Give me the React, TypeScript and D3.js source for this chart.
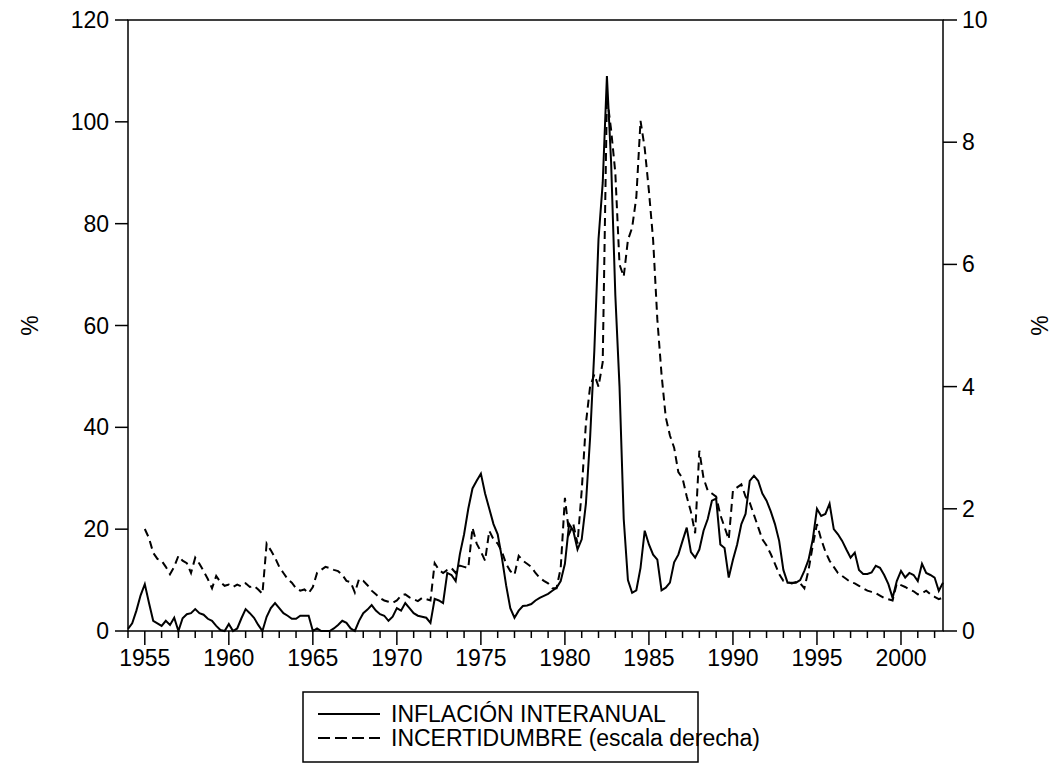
import React from "react";
import * as d3 from "d3";

// Quarterly observations, INFLACIÓN INTERANUAL (%), starting 1954 Q1
const inflStart = 1954;
const inflacion: number[] = [
  0.4, 1.5, 4, 7,
  9.2, 5.5, 2, 1.5,
  1.0, 2, 1.2, 2.6,
  0, 2.5, 3.3, 3.5,
  4.3, 3.5, 3.2, 2.4,
  2.0, 1.0, 0.2, 0,
  1.4, 0, 0.5, 2.5,
  4.3, 3.5, 2.6, 1.2,
  0, 2.8, 4.5, 5.5,
  4.5, 3.5, 3.0, 2.4,
  2.4, 3.0, 3.0, 3.0,
  0, 0.5, 0, 0,
  0, 0.5, 1.2, 2.0,
  1.6, 0.5, 0, 2.0,
  3.5, 4.2, 5.1, 4.0,
  3.3, 3.0, 2.0, 2.8,
  4.5, 4.0, 5.5, 4.5,
  3.5, 3.0, 2.8, 2.6,
  1.6, 6.3, 6.0, 5.5,
  11.4, 11.0, 9.8, 15.1,
  19, 24, 28, 29.5,
  30.9, 27, 24, 21,
  19, 14.4, 9, 4.5,
  2.6, 4, 4.9, 5,
  5.3, 6, 6.5, 6.9,
  7.3, 7.9, 8.5, 9.8,
  13.2, 21, 19.7, 16,
  18, 25, 38, 55,
  77, 88, 109, 92,
  66, 48, 22, 10,
  7.5, 8, 12.4, 19.7,
  17, 15, 14, 8,
  8.5, 9.5, 13.5, 15,
  17.7, 20.3, 15.5, 14.4,
  16, 19.7, 22, 25.6,
  26, 17, 16.3, 10.5,
  14, 17, 21, 23,
  29.5, 30.5, 29.5, 27,
  25.6, 23.5, 21, 17.7,
  12, 9.5, 9.5, 9.5,
  10, 11.8, 14, 18,
  24, 22.6, 23, 25,
  20, 19, 17.7, 16,
  14.4, 15.4, 12, 11.2,
  11.2, 11.5, 12.8, 12.4,
  11, 9.2, 6.5, 9.8,
  11.8, 10.5, 11.4, 11,
  9.8, 13.2, 11.4, 11,
  10.5, 7.9, 9.5,
];

// Quarterly observations, INCERTIDUMBRE (right scale), starting 1955 Q1
const incStart = 1955;
const incertidumbre: number[] = [
  1.67, 1.52, 1.28, 1.18,
  1.15, 1.05, 0.93, 1.05,
  1.23, 1.15, 1.11, 0.95,
  1.2, 1.1, 0.98, 0.85,
  0.70, 0.9, 0.8, 0.74,
  0.76, 0.72, 0.76, 0.73,
  0.78, 0.72, 0.74, 0.68,
  0.61, 1.43, 1.32, 1.2,
  1.05, 0.95, 0.85, 0.79,
  0.7, 0.66, 0.68, 0.62,
  0.72, 0.95, 1.0, 1.05,
  1.03, 1.0, 0.98, 0.92,
  0.82, 0.8, 0.63, 0.85,
  0.82, 0.75, 0.66, 0.6,
  0.54, 0.5, 0.48, 0.46,
  0.5, 0.58, 0.6, 0.55,
  0.52, 0.49, 0.54, 0.52,
  0.5, 1.11, 1.0, 0.95,
  1.0, 1.03, 0.95, 1.07,
  1.05, 1.03, 1.69, 1.43,
  1.3, 1.15, 1.64, 1.5,
  1.43, 1.3, 1.1, 0.98,
  0.92, 1.23, 1.15, 1.1,
  1.05, 0.95, 0.87, 0.82,
  0.78, 0.7, 0.7, 1.03,
  2.18, 1.59, 1.75, 1.43,
  2.3, 3.4, 4.0, 4.2,
  4.0, 4.4, 8.75, 8.2,
  7.5, 6.0, 5.8, 6.4,
  6.6, 7.1, 8.35, 7.9,
  7.2, 6.4, 5.1, 4.2,
  3.5, 3.2, 3.0, 2.6,
  2.5, 2.2, 1.95, 1.6,
  2.95, 2.5, 2.3, 2.25,
  2.2, 1.9, 1.7, 1.5,
  2.3, 2.35, 2.4, 2.2,
  2.1, 1.9, 1.7, 1.5,
  1.4, 1.26, 1.1, 0.93,
  0.82, 0.8, 0.78, 0.8,
  0.78, 0.7, 1.0, 1.4,
  1.75, 1.5, 1.3, 1.15,
  1.05, 0.95, 0.9, 0.85,
  0.8, 0.78, 0.74, 0.7,
  0.66, 0.64, 0.62, 0.58,
  0.54, 0.52, 0.5, 0.78,
  0.75, 0.72, 0.68, 0.65,
  0.6, 0.62, 0.66, 0.6,
  0.56, 0.52, 0.55,
];

const leftTicks = [0, 20, 40, 60, 80, 100, 120];
const rightTicks = [0, 2, 4, 6, 8, 10];
const yearLabels = [1955, 1960, 1965, 1970, 1975, 1980, 1985, 1990, 1995, 2000];
const legendLabels = ["INFLACIÓN INTERANUAL", "INCERTIDUMBRE (escala derecha)"];
const axisTitle = "%";

const W = 1056;
const H = 766;
const FONT = "'Liberation Sans', Arial, Helvetica, sans-serif";

export default function App() {
  const left = 128;
  const right = 943;
  const top = 20;
  const bottom = 631;

  const x = d3.scaleLinear().domain([1954, 2002.5]).range([left, right]);
  const yL = d3.scaleLinear().domain([0, 120]).range([bottom, top]);
  const yR = d3.scaleLinear().domain([0, 10]).range([bottom, top]);

  const inflPts = inflacion.map((v, i) => [inflStart + i / 4, v] as [number, number]);
  const incPts = incertidumbre.map((v, i) => [incStart + i / 4, v] as [number, number]);

  const lineL = d3.line<[number, number]>().x((d) => x(d[0])).y((d) => yL(d[1]));
  const lineR = d3.line<[number, number]>().x((d) => x(d[0])).y((d) => yR(d[1]));

  const years = d3.range(1954, 2003);
  const fs = 23;

  return (
    <svg
      width={W}
      height={H}
      style={{ position: "absolute", left: 0, top: 0, background: "#fff" }}
      fontFamily={FONT}
    >
      <rect x={0} y={0} width={W} height={H} fill="#fff" />
      {/* series */}
      <path d={lineR(incPts) || ""} fill="none" stroke="#000" strokeWidth={2} strokeDasharray="8,5" />
      <path d={lineL(inflPts) || ""} fill="none" stroke="#000" strokeWidth={2} />

      {/* frame */}
      <rect x={left} y={top} width={right - left} height={bottom - top} fill="none" stroke="#000" strokeWidth={1.5} />

      {/* left axis */}
      {leftTicks.map((t) => (
        <g key={"l" + t}>
          <line x1={left - 13} x2={left} y1={yL(t)} y2={yL(t)} stroke="#000" strokeWidth={1.5} />
          <text x={left - 19} y={yL(t)} dy="0.35em" textAnchor="end" fontSize={fs}>
            {t}
          </text>
        </g>
      ))}
      {/* right axis */}
      {rightTicks.map((t) => (
        <g key={"r" + t}>
          <line x1={right} x2={right + 14} y1={yR(t)} y2={yR(t)} stroke="#000" strokeWidth={1.5} />
          <text x={right + 19} y={yR(t)} dy="0.35em" textAnchor="start" fontSize={fs}>
            {t}
          </text>
        </g>
      ))}
      {/* bottom axis */}
      {years.map((yr) => {
        const major = yearLabels.includes(yr);
        return (
          <line
            key={"b" + yr}
            x1={x(yr)}
            x2={x(yr)}
            y1={bottom}
            y2={bottom + (major ? 14 : 7)}
            stroke="#000"
            strokeWidth={1.5}
          />
        );
      })}
      {yearLabels.map((yr) => (
        <text key={"bl" + yr} x={x(yr)} y={bottom + 35} textAnchor="middle" fontSize={fs}>
          {yr}
        </text>
      ))}

      {/* axis titles */}
      <text transform={`translate(38,${(top + bottom) / 2}) rotate(-90)`} textAnchor="middle" fontSize={fs}>
        {axisTitle}
      </text>
      <text transform={`translate(1048,${(top + bottom) / 2}) rotate(-90)`} textAnchor="middle" fontSize={fs}>
        {axisTitle}
      </text>

      {/* legend */}
      <rect x={303} y={692} width={395} height={70} fill="#fff" stroke="#000" strokeWidth={1.5} />
      <line x1={318} x2={380} y1={714} y2={714} stroke="#000" strokeWidth={2} />
      <text x={391} y={714} dy="0.35em" fontSize={fs}>
        {legendLabels[0]}
      </text>
      <line x1={318} x2={380} y1={738} y2={738} stroke="#000" strokeWidth={2} strokeDasharray="12,5" />
      <text x={391} y={738} dy="0.35em" fontSize={fs}>
        {legendLabels[1]}
      </text>
    </svg>
  );
}
